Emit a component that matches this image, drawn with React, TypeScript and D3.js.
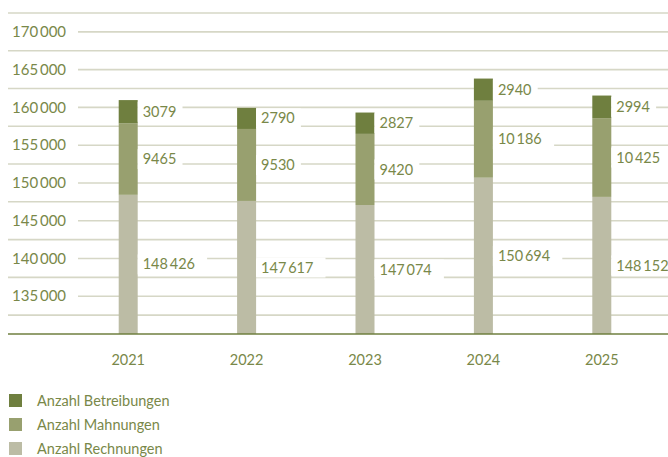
import React from "react";
import * as d3 from "d3";

const years = ["2021", "2022", "2023", "2024", "2025"];
const rechnungen = [148426, 147617, 147074, 150694, 148152];
const mahnungen = [9465, 9530, 9420, 10186, 10425];
const betreibungen = [3079, 2790, 2827, 2940, 2994];
const gridValues = [132500, 135000, 137500, 140000, 142500, 145000, 147500, 150000, 152500, 155000, 157500, 160000, 162500, 165000, 167500, 170000, 172500];
const labeledTicks = [135000, 140000, 145000, 150000, 155000, 160000, 165000, 170000];
const seriesNames = ["Anzahl Betreibungen", "Anzahl Mahnungen", "Anzahl Rechnungen"];

const W = 668;
const H = 457;
const colors = { bet: "#6f7f3f", mah: "#98a06f", rec: "#bcbca5" };
const textColor = "#798849";
const gridColor = "#d6d7c6";
const FONT = "Lato, 'Open Sans', sans-serif";

const fmt = (v: number) => {
  const s = String(v);
  if (s.length <= 4) return s;
  return s.replace(/\B(?=(\d{3})+(?!\d))/g, "\u2009");
};

export default function App() {
  const y = d3.scaleLinear().domain([130000, 172500]).range([334, 13]);
  const x = d3.scaleBand().domain(years).range([69, 661]).paddingInner(0).paddingOuter(0);
  const barW = 19;
  const yMin = 130000;

  const rows = years.map((yr, i) => {
    const r = rechnungen[i], m = mahnungen[i], b = betreibungen[i];
    return [
      { key: "rec", y0: yMin, y1: r, v: r, mid: (yMin + r) / 2 },
      { key: "mah", y0: r, y1: r + m, v: m, mid: r + m / 2 },
      { key: "bet", y0: r + m, y1: r + m + b, v: b, mid: r + m + b / 2 },
    ];
  });

  return (
    <svg width={W} height={H} style={{ display: "block", position: "absolute", left: 0, top: 0 }} fontFamily={FONT}>
      <rect width={W} height={H} fill="#fff" />
      {gridValues.map((g) => {
        const labeled = labeledTicks.includes(g);
        return (
          <line key={g} x1={labeled ? 78 : 8} x2={W} y1={y(g)} y2={y(g)} stroke={gridColor} strokeWidth={1.6} />
        );
      })}
      {labeledTicks.map((t) => (
        <text key={t} x={12} y={y(t)} dy="0.35em" fontSize={15} fill={textColor}>
          {fmt(t)}
        </text>
      ))}
      {years.map((yr, i) => {
        const cx = (x(yr) as number) + x.bandwidth() / 2;
        return (
          <g key={yr}>
            {rows[i].map((s) => (
              <rect key={s.key} x={cx - barW / 2} width={barW} y={y(s.y1)} height={y(s.y0) - y(s.y1)} fill={(colors as any)[s.key]} />
            ))}
            {rows[i].map((s) => {
              const label = fmt(s.v);
              const tw = label.length * 8.2;
              return (
                <g key={s.key + "l"}>
                  <rect x={cx + barW / 2} y={y(s.mid) - 10} width={tw + 12} height={20} fill="#fff" />
                  <text x={cx + barW / 2 + 5} y={y(s.mid)} dy="0.35em" fontSize={14.5} fill={textColor}>
                    {label}
                  </text>
                </g>
              );
            })}
            <text x={cx} y={360} dy="0.35em" textAnchor="middle" fontSize={14.5} fill={textColor}>
              {yr}
            </text>
          </g>
        );
      })}
      <line x1={8} x2={W} y1={y(130000)} y2={y(130000)} stroke="#6f7f3f" strokeWidth={1.5} />
      {seriesNames.map((n, i) => (
        <g key={n}>
          <rect x={9} y={394 + i * 24} width={13} height={13} fill={[colors.bet, colors.mah, colors.rec][i]} />
          <text x={37} y={401 + i * 24} dy="0.35em" fontSize={14.5} fill={textColor}>
            {n}
          </text>
        </g>
      ))}
    </svg>
  );
}
